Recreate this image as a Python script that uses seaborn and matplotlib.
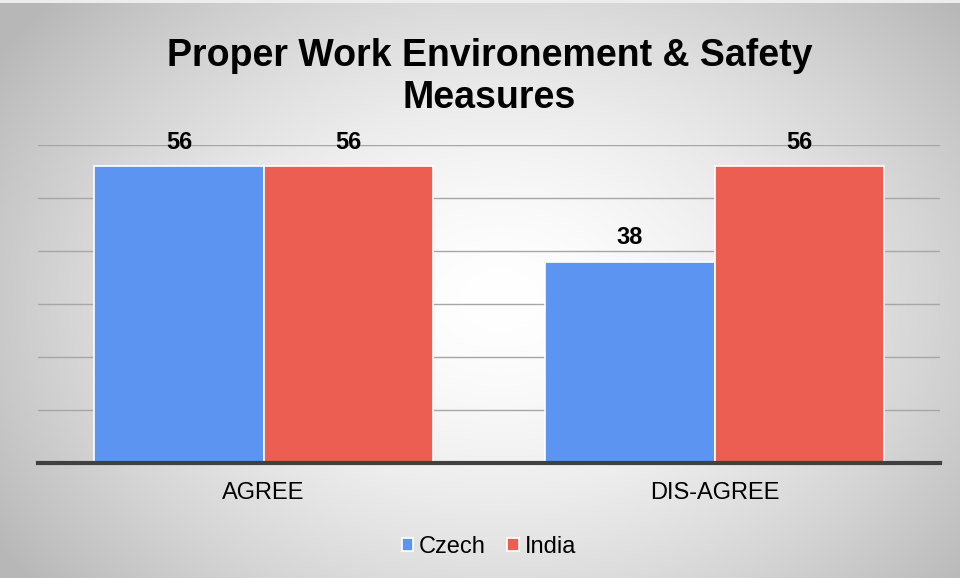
import numpy as np
import pandas as pd
import matplotlib
matplotlib.use("Agg")
import matplotlib.pyplot as plt
import seaborn as sns

categories = ["AGREE", "DIS-AGREE"]
series = ["Czech", "India"]
czech = [56, 38]
india = [56, 56]
title = "Proper Work Environement & Safety\nMeasures"
colors = {"Czech": "#5b95f1", "India": "#eb5e51"}

df = pd.DataFrame({
    "cat": categories * 2,
    "series": ["Czech"] * 2 + ["India"] * 2,
    "val": czech + india,
})

sns.set_theme(style="white")
plt.rcParams["font.family"] = ["Liberation Sans", "DejaVu Sans"]
plt.rcParams["text.color"] = "black"
plt.rcParams["xtick.color"] = "black"

fig = plt.figure(figsize=(9.6, 5.78), dpi=100)

# radial gradient background
bg = fig.add_axes([0, 0, 1, 1], zorder=-10)
H, W = 578, 960
yy, xx = np.mgrid[0:H, 0:W]
cx, cy = 500, 300
r = np.sqrt(((xx - cx) / 560.0) ** 2 + ((yy - cy) / 420.0) ** 2)
g = np.clip(1.0 - 0.25 * r ** 1.6, 0.72, 1.0)
img = np.dstack([g, g, g])
img[0:3, :, :] = 0.93
bg.imshow(img, aspect="auto", extent=[0, 1, 0, 1], origin="upper")
bg.axis("off")

ax = fig.add_axes([38 / 960, 1 - 463 / 578, (940 - 38) / 960, (463 - 145) / 578])
ax.patch.set_alpha(0)
sns.barplot(data=df, x="cat", y="val", hue="series", palette=colors,
            width=0.75, edgecolor="white", linewidth=1.2, ax=ax, zorder=3,
            saturation=1)
ax.set_ylim(0, 60)
ax.set_yticks(np.arange(0, 61, 10))
ax.yaxis.grid(True, color="#a6a6a6", linewidth=1.0, zorder=0)
ax.set_axisbelow(True)
ax.tick_params(axis="y", left=False, labelleft=False)
ax.tick_params(axis="x", bottom=False, labelsize=17, colors="black", pad=8)
ax.set_xlabel("")
ax.set_ylabel("")
for s in ["top", "right", "left"]:
    ax.spines[s].set_visible(False)
ax.spines["bottom"].set_color("#404040")
ax.spines["bottom"].set_linewidth(3)
ax.spines["bottom"].set_zorder(5)

for cont in ax.containers:
    ax.bar_label(cont, fmt="%d", padding=9, fontsize=17, fontweight="bold",
                 color="black")

leg = ax.legend(loc="center", bbox_to_anchor=(0.5, -0.264), ncol=2,
                frameon=False, fontsize=17, handlelength=0.5, handleheight=0.5,
                handletextpad=0.25, columnspacing=0.9)
for t in leg.get_texts():
    t.set_color("black")

fig.text(0.51, 1 - 77 / 578, title, ha="center", va="center", fontsize=27,
         fontweight="bold", linespacing=1.2, color="black")

fig.savefig("out.png", dpi=100)
